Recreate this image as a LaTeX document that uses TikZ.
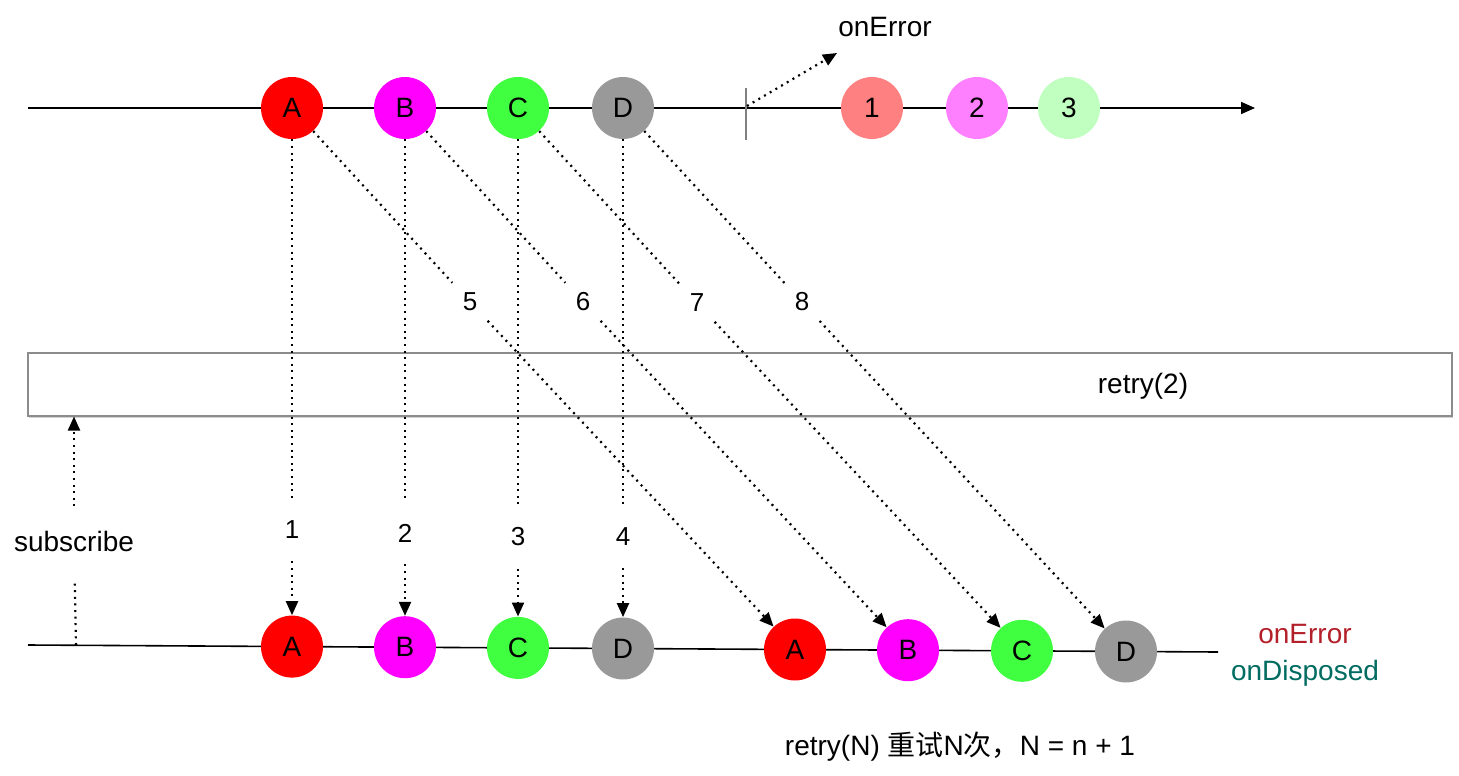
\documentclass[tikz,border=0pt]{standalone}
\usepackage{fontspec}
\setmainfont{Liberation Sans}
\newfontfamily\cjk{Noto Sans CJK SC}
\usepackage{xcolor}
\usepackage{tikz}
\usetikzlibrary{shapes,positioning,arrows.meta,shadows}
\definecolor{cA}{HTML}{FF0000}
\definecolor{cB}{HTML}{FF00FF}
\definecolor{cC}{HTML}{40FF40}
\definecolor{cD}{HTML}{999999}
\definecolor{c1}{HTML}{FF8080}
\definecolor{c2}{HTML}{FF80FF}
\definecolor{c3}{HTML}{C0FFC0}
\definecolor{errred}{HTML}{B3202A}
\definecolor{disp}{HTML}{006B60}
\tikzset{ball/.style={circle,minimum size=31pt,inner sep=0pt,font=\fontsize{14}{14}\selectfont}}
\tikzset{dots/.style={line width=1.1pt,dash pattern=on 1pt off 2.3pt}}
\tikzset{vnum/.style={inner sep=11pt,font=\fontsize{13}{13}\selectfont}}
\tikzset{dnum/.style={inner sep=5pt,font=\fontsize{13}{13}\selectfont}}
\tikzset{txt/.style={font=\fontsize{14}{14}\selectfont}}

\begin{document}
\begin{tikzpicture}[x=0.5pt,y=-0.5pt,>={Triangle[length=7pt,width=6pt]}]
    \useasboundingbox (0,0) rectangle (1459,775);

    % operator box
    \node[draw=black!45,line width=1pt,fill=white,minimum width=712pt,minimum height=31.5pt,
          drop shadow={shadow xshift=0.6pt,shadow yshift=-1.2pt,opacity=0.35}] (box) at (740,384) {};
    \node[txt] (op) at (1143,386) {retry(2)};

    % time lines
    \coordinate (t0) at (28,108);
    \coordinate (t1) at (1255,108);
    \coordinate (b0) at (28,645);
    \coordinate (b1) at (1218,652);
    \draw [line width=0.8pt,->] (t0) to [] (t1);
    \draw [line width=0.8pt] (b0) to [] (b1);
    \draw [black!50,line width=0.7pt] (746,88) -- (746,140);

    % source
    \node[ball,fill=cA] (tA) at (292,108) {A};
    \node[ball,fill=cB] (tB) at (405,108) {B};
    \node[ball,fill=cC] (tC) at (518,108) {C};
    \node[ball,fill=cD] (tD) at (623,108) {D};
    \node[ball,fill=c1] (t1b) at (872,108) {1};
    \node[ball,fill=c2] (t2b) at (977,108) {2};
    \node[ball,fill=c3] (t3b) at (1069,108) {3};

    % result
    \node[ball,fill=cA] (bA) at (292,646.6) {A};
    \node[ball,fill=cB] (bB) at (405,647.2) {B};
    \node[ball,fill=cC] (bC) at (518,647.9) {C};
    \node[ball,fill=cD] (bD) at (623,648.5) {D};
    \node[ball,fill=cA] (rA) at (795,649.5) {A};
    \node[ball,fill=cB] (rB) at (908,650.2) {B};
    \node[ball,fill=cC] (rC) at (1022,650.8) {C};
    \node[ball,fill=cD] (rD) at (1126,651.5) {D};

    % error
    \coordinate (err) at (747,106);
    \coordinate (errtip) at (837,53);
    \node[txt] (onerr) at (885,27) {onError};
    \draw [dots,->] (err) to [] (errtip);

    % subscribe
    \node[txt,inner sep=3pt] (sub) at (74,541) {subscribe};
    \coordinate (s0) at (76,645);
    \draw [dots,shorten >=13pt] (s0) to [] (sub);
    \draw [dots,->,shorten <=9pt] (sub) to [] (sub |- box.south);

    % first run
    \node[vnum] (n1) at (292,530) {1};
    \node[vnum] (n2) at (405,533) {2};
    \node[vnum] (n3) at (518,537) {3};
    \node[vnum] (n4) at (623,537) {4};
    \draw [dots] (tA) to [] (n1);
    \draw [dots] (tB) to [] (n2);
    \draw [dots] (tC) to [] (n3);
    \draw [dots] (tD) to [] (n4);
    \draw [dots,->] (n1) to [] (bA);
    \draw [dots,->] (n2) to [] (bB);
    \draw [dots,->] (n3) to [] (bC);
    \draw [dots,->] (n4) to [] (bD);

    % retry
    \node[dnum] (n5) at (470,302) {5};
    \node[dnum] (n6) at (583,302) {6};
    \node[dnum] (n7) at (697,303) {7};
    \node[dnum] (n8) at (802,302) {8};
    \draw [dots] (tA) to [] (n5);
    \draw [dots] (tB) to [] (n6);
    \draw [dots] (tC) to [] (n7);
    \draw [dots] (tD) to [] (n8);
    \draw [dots,->] (n5) to [] (rA);
    \draw [dots,->] (n6) to [] (rB);
    \draw [dots,->] (n7) to [] (rC);
    \draw [dots,->] (n8) to [] (rD);

    \node[txt,text=errred] (onerr2) at (1305,634) {onError};
    \node[txt,text=disp] (ondisp) at (1305,673) {onDisposed};
    \node[font=\fontsize{14}{14}\selectfont] (note) at (960,747) {retry(N) {\cjk 重试}N{\cjk 次，}N = n + 1};
\end{tikzpicture}
\end{document}
